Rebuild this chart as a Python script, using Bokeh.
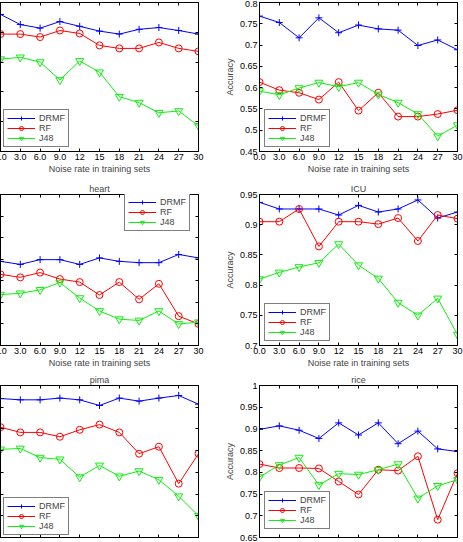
from bokeh.plotting import figure
from bokeh.layouts import row, column
from bokeh.models import (LinearAxis, FixedTicker, CustomJSTickFormatter,
                          Legend, LegendItem)
from bokeh.embed import file_html
from bokeh.resources import INLINE

# Noise rate (%) injected into the training sets
noise = [0, 3, 6, 9, 12, 15, 18, 21, 24, 27, 30]

# Accuracy per method for each dataset
a_drmf = [0.880, 0.863, 0.857, 0.868, 0.860, 0.852, 0.847, 0.855, 0.858, 0.853, 0.847]
a_rf   = [0.847, 0.847, 0.842, 0.853, 0.848, 0.828, 0.823, 0.823, 0.833, 0.823, 0.818]
a_j48  = [0.805, 0.808, 0.800, 0.770, 0.802, 0.783, 0.742, 0.732, 0.715, 0.718, 0.693]

b_drmf = [0.768, 0.753, 0.717, 0.764, 0.729, 0.747, 0.738, 0.735, 0.699, 0.712, 0.689]
b_rf   = [0.613, 0.594, 0.588, 0.572, 0.613, 0.546, 0.588, 0.532, 0.532, 0.538, 0.547]
b_j48  = [0.592, 0.583, 0.599, 0.612, 0.602, 0.612, 0.584, 0.565, 0.538, 0.486, 0.512]

heart_drmf = [0.845, 0.838, 0.849, 0.849, 0.838, 0.853, 0.845, 0.842, 0.842, 0.861, 0.853]
heart_rf   = [0.815, 0.808, 0.819, 0.804, 0.797, 0.767, 0.797, 0.757, 0.793, 0.718, 0.700]
heart_j48  = [0.768, 0.771, 0.779, 0.796, 0.760, 0.730, 0.711, 0.708, 0.730, 0.700, 0.704]

icu_drmf = [0.937, 0.926, 0.926, 0.926, 0.916, 0.932, 0.921, 0.926, 0.941, 0.911, 0.921]
icu_rf   = [0.905, 0.905, 0.926, 0.864, 0.905, 0.905, 0.901, 0.911, 0.873, 0.916, 0.910]
icu_j48  = [0.810, 0.821, 0.830, 0.837, 0.868, 0.833, 0.811, 0.771, 0.750, 0.778, 0.718]

pima_drmf = [0.770, 0.767, 0.767, 0.771, 0.767, 0.754, 0.771, 0.764, 0.771, 0.777, 0.757]
pima_rf   = [0.704, 0.692, 0.692, 0.682, 0.698, 0.710, 0.692, 0.643, 0.659, 0.574, 0.643]
pima_j48  = [0.653, 0.655, 0.634, 0.630, 0.589, 0.616, 0.591, 0.603, 0.583, 0.545, 0.500]

rice_drmf = [0.899, 0.907, 0.897, 0.878, 0.914, 0.886, 0.914, 0.866, 0.895, 0.854, 0.848]
rice_rf   = [0.819, 0.810, 0.810, 0.809, 0.779, 0.749, 0.806, 0.804, 0.837, 0.691, 0.798]
rice_j48  = [0.789, 0.817, 0.834, 0.771, 0.797, 0.795, 0.806, 0.819, 0.740, 0.769, 0.783]

method_names = ["DRMF", "RF", "J48"]
x_axis_title = "Noise rate in training sets"
y_axis_title = "Accuracy"

FONT = "Liberation Sans"
FS = "9px"
COLORS = ["#0000ff", "#ff0000", "#11ee11"]
MARKERS = ["cross", "circle", "inverted_triangle"]
MSIZES = [7, 7, 8]

x_fmt_code = "return tick < 10 ? tick.toFixed(1) : tick.toFixed(0);"
y_fmt_code = "return String(parseFloat(tick.toFixed(2)));"
blank_code = "return '';"

# the left column is shifted partly out of view, so its y labels are clipped
LEFT_SHIFT = 8


def style_axis(ax, labels):
    ax.major_tick_in = 3
    ax.major_tick_out = 0
    ax.minor_tick_line_color = None
    ax.axis_line_color = "black"
    ax.major_tick_line_color = "black"
    ax.major_label_text_font = FONT
    ax.major_label_text_color = "black"
    if labels:
        ax.major_label_text_font_size = FS
        ax.major_label_standoff = 2
    else:
        ax.major_label_text_font_size = "0px"
        ax.major_label_standoff = 0
        ax.formatter = CustomJSTickFormatter(code=blank_code)


def panel(series, y_lo, y_hi, width, height, left_col, top_border,
          bottom_border, legend_xy, title=None, x_labels=True):
    p = figure(width=width, height=height, x_range=(0, 30),
               y_range=(y_lo, y_hi), output_backend="svg",
               toolbar_location=None,
               min_border_left=LEFT_SHIFT if left_col else 39,
               min_border_right=22 if left_col else 6,
               min_border_top=top_border, min_border_bottom=bottom_border)
    p.xgrid.visible = False
    p.ygrid.visible = False
    p.outline_line_color = "black"
    p.outline_line_width = 1
    p.background_fill_color = "white"
    p.border_fill_color = "white"

    yticks = [round(y_lo + 0.05 * i, 2)
              for i in range(int(round((y_hi - y_lo) / 0.05)) + 1)]

    xa = p.xaxis[0]
    xa.ticker = FixedTicker(ticks=noise)
    style_axis(xa, x_labels)
    if x_labels:
        xa.formatter = CustomJSTickFormatter(code=x_fmt_code)
        xa.axis_label = x_axis_title
        xa.axis_label_text_font = FONT
        xa.axis_label_text_font_size = FS
        xa.axis_label_text_font_style = "normal"
        xa.axis_label_standoff = 1

    ya = p.yaxis[0]
    ya.ticker = FixedTicker(ticks=yticks)
    style_axis(ya, not left_col)
    if not left_col:
        ya.formatter = CustomJSTickFormatter(code=y_fmt_code)
        ya.axis_label = y_axis_title
        ya.axis_label_text_font = FONT
        ya.axis_label_text_font_size = FS
        ya.axis_label_text_font_style = "normal"
        ya.axis_label_standoff = 2

    # mirrored inward ticks on the top and right edges of the box
    top = LinearAxis(ticker=FixedTicker(ticks=noise))
    style_axis(top, False)
    p.add_layout(top, "above")
    right = LinearAxis(ticker=FixedTicker(ticks=yticks))
    style_axis(right, False)
    p.add_layout(right, "right")

    if title:
        p.title.text = title
        p.title.align = "center"
        p.title.text_font = FONT
        p.title.text_font_size = FS
        p.title.text_font_style = "normal"
        p.title.standoff = 2

    items = []
    for vals, name, col, mk, ms in zip(series, method_names, COLORS, MARKERS, MSIZES):
        ln = p.line(noise, vals, line_color=col, line_width=1)
        sc = p.scatter(noise, vals, marker=mk, size=ms, line_color=col,
                       fill_color=None, line_width=1)
        items.append(LegendItem(label=name, renderers=[ln, sc]))

    leg = Legend(items=items, location=legend_xy)
    leg.label_text_font = FONT
    leg.label_text_font_size = FS
    leg.glyph_width = 28
    leg.glyph_height = 10
    leg.label_height = 10
    leg.label_width = 26
    leg.label_standoff = 4
    leg.spacing = 0
    leg.padding = 3
    leg.margin = 0
    leg.border_line_color = "black"
    leg.border_line_width = 1
    leg.background_fill_color = "white"
    leg.background_fill_alpha = 1
    p.add_layout(leg)

    if left_col:
        p.styles = {"margin-left": f"-{LEFT_SHIFT}px"}
    return p


WL, WR = 220 + LEFT_SHIFT, 243

p1 = panel([a_drmf, a_rf, a_j48], 0.65, 0.9, WL, 176, True, 2, 23, (3, 4))
p2 = panel([b_drmf, b_rf, b_j48], 0.45, 0.8, WR, 176, False, 2, 23, (5, 4))
p3 = panel([heart_drmf, heart_rf, heart_j48], 0.65, 1.0, WL, 194, True, 18, 24,
           (124, 114), title="heart")
p4 = panel([icu_drmf, icu_rf, icu_j48], 0.7, 0.95, WR, 194, False, 18, 24,
           (5, 4), title="ICU")
p5 = panel([pima_drmf, pima_rf, pima_j48], 0.45, 0.8, WL, 172, True, 15, 5,
           (3, 2), title="pima", x_labels=False)
p6 = panel([rice_drmf, rice_rf, rice_j48], 0.65, 1.0, WR, 172, False, 15, 5,
           (5, 8), title="rice", x_labels=False)

layout = column(row(p1, p2), row(p3, p4), row(p5, p6))

open("out.html", "w").write(file_html(layout, INLINE))
